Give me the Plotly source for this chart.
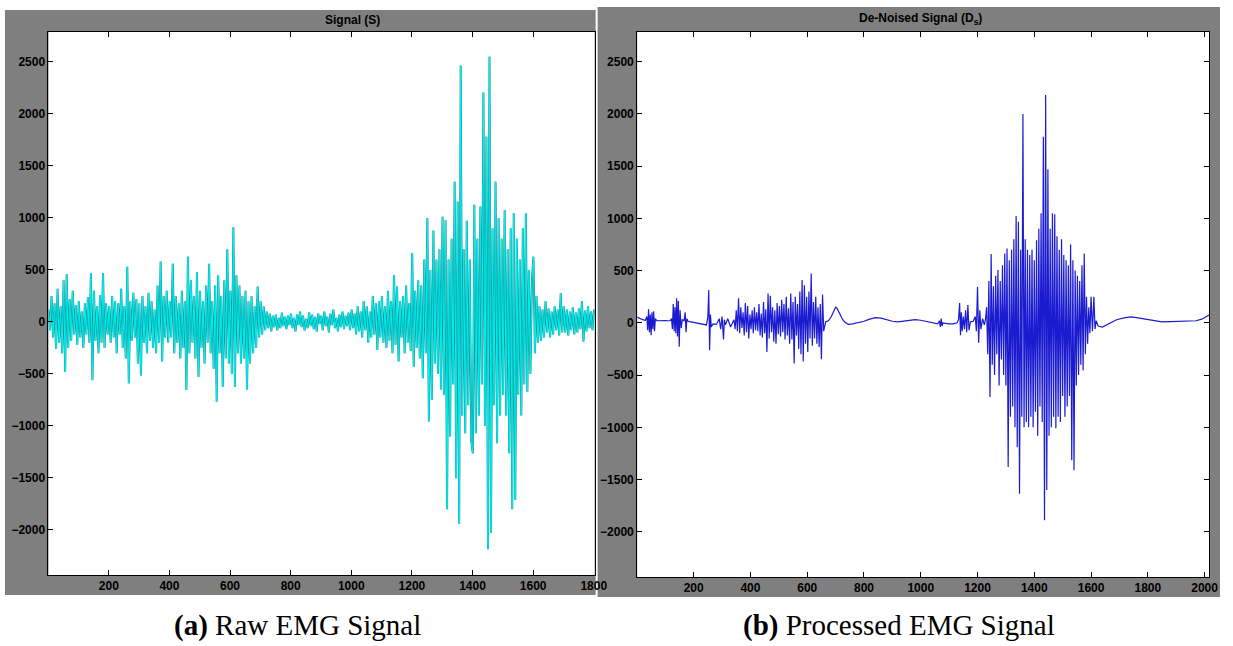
import numpy as np
import plotly.graph_objects as go

# ---------------- data: (a) raw EMG signal, one value every 5 samples from sample 1 ----------------
raw_step = 5
raw_seg01 = [120, -80, 250, -150, 180, -260, 320, -200, 150, -300, 400, -480, 460, -250, 220, -180, 300, -120, 160, -220,
             200, -150, 100, -250, 180, -120, 240, -200, 470, -560, 300, -180, 150, -300, 260, -200, 470, -250, 180, -120]
raw_seg23 = [150, -200, 250, -150, 200, -300, 180, -120, 320, -250, 150, -350, 530, -590, 200, -180, 280, -150, 220, -400,
             180, -515, 250, -200, 150, -300, 280, -180, 200, -250, 120, -300, 350, -200, 580, -380, 250, -150, 300, -200]
raw_seg45 = [200, -150, 560, -300, 250, -200, 180, -350, 300, -250, 200, -654, 628, -300, 400, -200, 250, -350, 480, -530,
             300, -250, 200, -400, 350, -200, 560, -300, 200, -450, 350, -766, 450, -300, 250, -622, 400, -350, 700, -400]
raw_seg67 = [300, -500, 910, -622, 450, -300, 350, -400, 250, -350, 300, -650, 200, -400, 250, -300, 150, -250, 340, -150,
             200, -120, 150, -80, 100, -60, 80, -90, 60, -50, 70, -80, 40, -60, 90, -40, 50, -70, 60, -30]
raw_seg89 = [80, -60, 40, -90, 70, -30, 100, -50, 60, -80, 30, -60, 90, -40, 70, -70, 50, -90, 80, -20,
             60, -80, 100, -40, 50, -100, 80, -30, 120, -60, 40, -90, 70, -50, 100, -70, 60, -40, 90, -80]
raw_seg1011 = [120, -60, 80, -120, 150, -90, 100, -150, 200, -80, 150, -200, 100, -150, 250, -120, 180, -269, 200, -150,
               250, -200, 150, -250, 300, -180, 200, -300, 452, -220, 340, -381, 200, -150, 250, -300, 350, -200, 180, -280]
raw_seg1213 = [663, -430, 300, -250, 400, -350, 350, -540, 600, -300, 1000, -958, 500, -750, 880, -400, 600, -500, 700, -650,
               1012, -700, 980, -1801, 600, -1102, 800, -600, 1349, -1503, 1157, -1942, 2465, -900, 700, -1070, 974, -800, 600, -1151]
raw_seg1415 = [-1263, 1128, -1070, 800, -900, 1109, -600, 2205, -1000, 1782, -2186, 2551, -2030, 900, -800, 1349, -1166, 1000, -900, 800,
               -700, 1077, -900, 700, -1263, 900, -1801, 1045, -1711, 800, -700, 600, -900, 900, -600, 1045, -670, 500, -500, 400]
raw_seg1617 = [628, -300, 250, -200, 150, -180, 120, -150, 200, -100, 130, -150, 100, -120, 150, -80, 120, -130, 275, -100,
               150, -100, 120, -130, 100, -80, 140, -120, 90, -100, 130, -70, 200, -190, 110, -90, 150, -60, 100, -80, 120]

# ---------------- data: (b) de-noised signal (sample index, value) ----------------
dn_x_start = [1, 10, 20, 30, 35, 38, 41, 44, 47, 50, 53, 56, 59, 62, 65, 70, 80, 90, 100, 110, 118,
              122, 125, 128, 131, 134, 137, 140, 143, 146, 149, 152, 156, 160, 166, 170, 173, 176, 180,
              190, 210, 230, 245, 250, 253, 256, 259, 262, 268, 280, 290, 295, 300, 305, 308, 312, 320, 330, 338]
dn_y_start = [55, 40, 30, 25, 60, -70, 130, -90, 80, -118, 100, -60, 110, -80, 40, 20, 22, 20, 22, 20, 22,
              40, -60, 180, -80, 150, -100, 236, -130, 210, -230, 120, -50, 30, 20, 100, -90, 40, 15,
              10, 0, -10, -20, 60, 313, -262, 80, -40, -10, -15, 40, -60, 60, -160, 30, -20, 40, -40, 10]

dn_burst1_start = 342
dn_burst1_step = 4
dn_burst1 = [30, -60, 120, -80, 234, -100, 150, -50, 100, -120, 190, -90, 160, -150, 80, -60, 120, -100, 150, -70,
             100, -80, 180, -120, 90, -140, 200, -100, 130, -278, 280, -150, 260, -90, 150, -180, 120, -200, 190, -110,
             160, -130, 220, -90, 180, -160, 250, -120, 140, -200, 280, -160, 200, -389, 250, -120, 180, -250, 300, -300,
             409, -370, 360, -200, 250, -280, 300, -150, 473, -220, 200, -150, 250, -200, 150, -230, 180, -348, 270, -80]

dn_x_mid = [665, 675, 685, 695, 700, 705, 715, 725, 735, 745, 760, 780, 800, 820, 840, 860, 880, 900, 920, 940,
            960, 980, 1000, 1010, 1030, 1050, 1060, 1066, 1069, 1072, 1075, 1078, 1085, 1100, 1115, 1128,
            1133, 1137, 1140, 1143, 1146, 1150, 1154, 1158, 1162, 1166, 1170, 1175, 1185, 1192, 1196, 1200,
            1204, 1208, 1212, 1218, 1224, 1228]
dn_y_mid = [10, 20, 60, 120, 150, 140, 90, 30, 0, -15, -10, 0, 15, 35, 50, 45, 30, 15, 10, 15,
            25, 30, 25, 20, 10, 0, -10, 20, -40, 40, -30, 0, -5, -10, -10, 0,
            30, 190, -118, 100, -80, 60, -60, 120, -90, 170, -70, 10, 15, 60, -80, 345,
            -191, 120, -60, 40, -20, 30]

dn_burst2_start = 1232
dn_burst2_step = 4
dn_burst2 = [150, -300, 400, -709, 658, -400, 350, -500, 450, -300, 505, -600, 400, -350, 550, -500, 664, -600, 712, -1380,
             600, -900, 700, -800, 800, -1000, 1022, -1190, 968, -1635, 700, -900, 2000, -1000, 800, -950, 700, -1000, 650, -900,
             700, -1000, 600, -850, 790, -1080, 900, -800, 1050, -950, 1782, -1890, 2181, -1600, 1470, -1080, 900, -1000, 1050, -900,
             1040, -1010, 830, -900, 700, -950, 800, -700, 650, -900, 600, -800, 550, -700, 750, -1315, 600, -1410, 500, -600,
             450, -500, 400, -400, 550, -455, 663, -300, 250, -200, 150, -100, 250]

dn_x_end = [1605, 1610, 1614, 1618, 1625, 1640, 1660, 1690, 1720, 1740, 1760, 1790, 1820, 1850, 1880, 1910, 1940,
            1970, 1990, 2005, 2016]
dn_y_end = [-80, 250, -60, 20, -30, -40, -10, 30, 50, 57, 50, 35, 20, 10, 12, 15, 18, 20, 35, 60, 75]

y_ticks = [-2000, -1500, -1000, -500, 0, 500, 1000, 1500, 2000, 2500]
x_ticks_a = [200, 400, 600, 800, 1000, 1200, 1400, 1600, 1800]
x_ticks_b = [200, 400, 600, 800, 1000, 1200, 1400, 1600, 1800, 2000]

# ---------------- assemble series ----------------
raw_vals = (raw_seg01 + raw_seg23 + raw_seg45 + raw_seg67 + raw_seg89 + raw_seg1011 +
            raw_seg1213 + raw_seg1415 + raw_seg1617)
raw_idx = 1 + raw_step * np.arange(len(raw_vals))

b1_idx = dn_burst1_start + dn_burst1_step * np.arange(len(dn_burst1))
b2_idx = dn_burst2_start + dn_burst2_step * np.arange(len(dn_burst2))
dn_idx = list(dn_x_start) + list(b1_idx) + list(dn_x_mid) + list(b2_idx) + list(dn_x_end)
dn_vals = dn_y_start + dn_burst1 + dn_y_mid + dn_burst2 + dn_y_end
assert len(dn_x_start) == len(dn_y_start) and len(dn_x_mid) == len(dn_y_mid) and len(dn_x_end) == len(dn_y_end)

# ---------------- layout geometry (pixels) ----------------
W, H = 1233, 646
def fx(p): return p / W
def fy(p): return 1 - p / H

GRAY = "#7f7f7f"
SANS = "Arial, Liberation Sans, sans-serif"
SERIF = "Liberation Serif, Times New Roman, serif"
tickfont = dict(family=SANS, size=12, color="black", weight="bold")

fig = go.Figure()
# raw signal: dark teal edge under a bright cyan core (MATLAB cyan plot look)
fig.add_trace(go.Scatter(x=raw_idx, y=raw_vals, mode="lines",
                         line=dict(color="#138f94", width=2), xaxis="x", yaxis="y",
                         showlegend=False, hoverinfo="skip"))
fig.add_trace(go.Scatter(x=raw_idx, y=raw_vals, mode="lines",
                         line=dict(color="#00f0f0", width=1), xaxis="x", yaxis="y",
                         showlegend=False, hoverinfo="skip"))
fig.add_trace(go.Scatter(x=dn_idx, y=dn_vals, mode="lines",
                         line=dict(color="#1a1ad0", width=1.2), xaxis="x2", yaxis="y2",
                         showlegend=False, hoverinfo="skip"))

ax_common = dict(showgrid=False, zeroline=False, showline=True, linecolor="black", linewidth=1,
                 ticks="inside", ticklen=5, tickcolor="black", tickfont=tickfont)

fig.update_layout(
    width=W, height=H, margin=dict(l=0, r=0, t=0, b=0),
    paper_bgcolor="white", plot_bgcolor="white",
    xaxis=dict(domain=[fx(49), fx(601)], range=[1, 1803], tickvals=x_ticks_a, mirror="ticks",
               anchor="y", **ax_common),
    yaxis=dict(domain=[fy(575), fy(32)], range=[-2433, 2788], tickvals=y_ticks, mirror=True,
               anchor="x", **ax_common),
    xaxis2=dict(domain=[fx(644), fx(1222)], range=[1, 2016], tickvals=x_ticks_b, mirror="ticks",
                anchor="y2", **ax_common),
    yaxis2=dict(domain=[fy(577), fy(32)], range=[-2433, 2784], tickvals=y_ticks, mirror="ticks",
                anchor="x2", **ax_common),
    shapes=[
        dict(type="rect", xref="paper", yref="paper", x0=fx(5), x1=fx(602), y0=fy(595), y1=fy(10),
             fillcolor=GRAY, line=dict(width=0), layer="below"),
        dict(type="rect", xref="paper", yref="paper", x0=fx(604), x1=fx(1233), y0=fy(597), y1=fy(7),
             fillcolor=GRAY, line=dict(width=0), layer="below"),
        dict(type="rect", xref="paper", yref="paper", x0=fx(49), x1=fx(601), y0=fy(575), y1=fy(32),
             fillcolor="white", line=dict(width=0), layer="below"),
        dict(type="rect", xref="paper", yref="paper", x0=fx(644), x1=fx(1222), y0=fy(577), y1=fy(32),
             fillcolor="white", line=dict(width=0), layer="below"),
    ],
    annotations=[
        dict(text="<b>Signal (S)</b>", xref="paper", yref="paper", x=fx(356), y=fy(20),
             xanchor="center", yanchor="middle",
             showarrow=False, font=dict(family=SANS, size=12, color="black")),
        dict(text="<b>De-Noised Signal (D<sub>s</sub>)</b>", xref="paper", yref="paper", x=fx(930), y=fy(19),
             xanchor="center", yanchor="middle",
             showarrow=False, font=dict(family=SANS, size=12, color="black")),
        dict(text="<b>(a)</b> Raw EMG Signal", xref="paper", yref="paper", x=fx(301), y=fy(625),
             xanchor="center", yanchor="middle",
             showarrow=False, font=dict(family=SERIF, size=29, color="black")),
        dict(text="<b>(b)</b> Processed EMG Signal", xref="paper", yref="paper", x=fx(909), y=fy(625),
             xanchor="center", yanchor="middle",
             showarrow=False, font=dict(family=SERIF, size=29, color="black")),
    ],
)

fig.write_html("out.html")
